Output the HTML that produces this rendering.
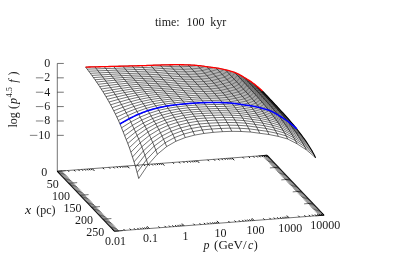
<!DOCTYPE html>
<html><head><meta charset="utf-8"><style>
html,body{margin:0;padding:0;background:#fff}
body{width:399px;height:279px;position:relative;overflow:hidden;font-family:"Liberation Serif",serif}
</style></head><body>
<svg width="399" height="279" viewBox="0 0 399 279" style="position:absolute;left:0;top:0;will-change:transform" font-family="'Liberation Serif', serif" font-size="12.0" fill="#000" fill-opacity="0.9">
<rect width="399" height="279" fill="#fff"/>
<g fill="none" stroke="#000" stroke-width="0.55">
<path d="M57.30 171.30 L114.30 231.20 L324.00 215.18 L267.00 155.28 Z"/>
<path d="M57.30 171.30 L57.30 63.45"/>
<path d="M57.30 63.45 L63.80 63.45"/>
<path d="M57.30 77.83 L63.80 77.83"/>
<path d="M57.30 92.21 L63.80 92.21"/>
<path d="M57.30 106.59 L63.80 106.59"/>
<path d="M57.30 120.97 L63.80 120.97"/>
<path d="M57.30 135.35 L63.80 135.35"/>
<path stroke-width="0.9" d="M114.30 231.20 L112.09 228.88"/>
<path stroke-width="0.9" d="M57.30 171.30 L59.51 173.62"/>
<path stroke-width="0.9" d="M124.82 230.40 L123.51 229.02"/>
<path stroke-width="0.9" d="M67.82 170.50 L69.13 171.87"/>
<path stroke-width="0.9" d="M130.98 229.93 L129.67 228.55"/>
<path stroke-width="0.9" d="M73.98 170.03 L75.29 171.40"/>
<path stroke-width="0.9" d="M135.34 229.59 L134.03 228.22"/>
<path stroke-width="0.9" d="M78.34 169.69 L79.65 171.07"/>
<path stroke-width="0.9" d="M138.73 229.33 L137.42 227.96"/>
<path stroke-width="0.9" d="M81.73 169.43 L83.04 170.81"/>
<path stroke-width="0.9" d="M141.50 229.12 L140.19 227.75"/>
<path stroke-width="0.9" d="M84.50 169.22 L85.81 170.60"/>
<path stroke-width="0.9" d="M143.84 228.94 L142.53 227.57"/>
<path stroke-width="0.9" d="M86.84 169.04 L88.15 170.42"/>
<path stroke-width="0.9" d="M145.86 228.79 L144.55 227.41"/>
<path stroke-width="0.9" d="M88.86 168.89 L90.17 170.27"/>
<path stroke-width="0.9" d="M147.65 228.65 L146.34 227.28"/>
<path stroke-width="0.9" d="M90.65 168.75 L91.96 170.13"/>
<path stroke-width="0.9" d="M149.25 228.53 L147.04 226.21"/>
<path stroke-width="0.9" d="M92.25 168.63 L94.46 170.95"/>
<path stroke-width="0.9" d="M159.77 227.73 L158.46 226.35"/>
<path stroke-width="0.9" d="M102.77 167.83 L104.08 169.20"/>
<path stroke-width="0.9" d="M165.93 227.26 L164.62 225.88"/>
<path stroke-width="0.9" d="M108.93 167.36 L110.24 168.73"/>
<path stroke-width="0.9" d="M170.29 226.92 L168.98 225.55"/>
<path stroke-width="0.9" d="M113.29 167.02 L114.60 168.40"/>
<path stroke-width="0.9" d="M173.68 226.66 L172.37 225.29"/>
<path stroke-width="0.9" d="M116.68 166.76 L117.99 168.14"/>
<path stroke-width="0.9" d="M176.45 226.45 L175.14 225.08"/>
<path stroke-width="0.9" d="M119.45 166.55 L120.76 167.93"/>
<path stroke-width="0.9" d="M178.79 226.27 L177.48 224.90"/>
<path stroke-width="0.9" d="M121.79 166.37 L123.10 167.75"/>
<path stroke-width="0.9" d="M180.81 226.12 L179.50 224.74"/>
<path stroke-width="0.9" d="M123.81 166.22 L125.12 167.60"/>
<path stroke-width="0.9" d="M182.60 225.98 L181.29 224.61"/>
<path stroke-width="0.9" d="M125.60 166.08 L126.91 167.46"/>
<path stroke-width="0.9" d="M184.20 225.86 L181.99 223.54"/>
<path stroke-width="0.9" d="M127.20 165.96 L129.41 168.28"/>
<path stroke-width="0.9" d="M194.72 225.06 L193.41 223.68"/>
<path stroke-width="0.9" d="M137.72 165.16 L139.03 166.53"/>
<path stroke-width="0.9" d="M200.88 224.59 L199.57 223.21"/>
<path stroke-width="0.9" d="M143.88 164.69 L145.19 166.06"/>
<path stroke-width="0.9" d="M205.24 224.25 L203.93 222.88"/>
<path stroke-width="0.9" d="M148.24 164.35 L149.55 165.73"/>
<path stroke-width="0.9" d="M208.63 223.99 L207.32 222.62"/>
<path stroke-width="0.9" d="M151.63 164.09 L152.94 165.47"/>
<path stroke-width="0.9" d="M211.40 223.78 L210.09 222.41"/>
<path stroke-width="0.9" d="M154.40 163.88 L155.71 165.26"/>
<path stroke-width="0.9" d="M213.74 223.60 L212.43 222.23"/>
<path stroke-width="0.9" d="M156.74 163.70 L158.05 165.08"/>
<path stroke-width="0.9" d="M215.76 223.45 L214.45 222.07"/>
<path stroke-width="0.9" d="M158.76 163.55 L160.07 164.93"/>
<path stroke-width="0.9" d="M217.55 223.31 L216.24 221.94"/>
<path stroke-width="0.9" d="M160.55 163.41 L161.86 164.79"/>
<path stroke-width="0.9" d="M219.15 223.19 L216.94 220.87"/>
<path stroke-width="0.9" d="M162.15 163.29 L164.36 165.61"/>
<path stroke-width="0.9" d="M229.67 222.39 L228.36 221.01"/>
<path stroke-width="0.9" d="M172.67 162.49 L173.98 163.86"/>
<path stroke-width="0.9" d="M235.83 221.92 L234.52 220.54"/>
<path stroke-width="0.9" d="M178.83 162.02 L180.14 163.39"/>
<path stroke-width="0.9" d="M240.19 221.58 L238.88 220.21"/>
<path stroke-width="0.9" d="M183.19 161.68 L184.50 163.06"/>
<path stroke-width="0.9" d="M243.58 221.32 L242.27 219.95"/>
<path stroke-width="0.9" d="M186.58 161.42 L187.89 162.80"/>
<path stroke-width="0.9" d="M246.35 221.11 L245.04 219.74"/>
<path stroke-width="0.9" d="M189.35 161.21 L190.66 162.59"/>
<path stroke-width="0.9" d="M248.69 220.93 L247.38 219.56"/>
<path stroke-width="0.9" d="M191.69 161.03 L193.00 162.41"/>
<path stroke-width="0.9" d="M250.71 220.78 L249.40 219.40"/>
<path stroke-width="0.9" d="M193.71 160.88 L195.02 162.26"/>
<path stroke-width="0.9" d="M252.50 220.64 L251.19 219.27"/>
<path stroke-width="0.9" d="M195.50 160.74 L196.81 162.12"/>
<path stroke-width="0.9" d="M254.10 220.52 L251.89 218.20"/>
<path stroke-width="0.9" d="M197.10 160.62 L199.31 162.94"/>
<path stroke-width="0.9" d="M264.62 219.72 L263.31 218.34"/>
<path stroke-width="0.9" d="M207.62 159.82 L208.93 161.19"/>
<path stroke-width="0.9" d="M270.78 219.25 L269.47 217.87"/>
<path stroke-width="0.9" d="M213.78 159.35 L215.09 160.72"/>
<path stroke-width="0.9" d="M275.14 218.91 L273.83 217.54"/>
<path stroke-width="0.9" d="M218.14 159.01 L219.45 160.39"/>
<path stroke-width="0.9" d="M278.53 218.65 L277.22 217.28"/>
<path stroke-width="0.9" d="M221.53 158.75 L222.84 160.13"/>
<path stroke-width="0.9" d="M281.30 218.44 L279.99 217.07"/>
<path stroke-width="0.9" d="M224.30 158.54 L225.61 159.92"/>
<path stroke-width="0.9" d="M283.64 218.26 L282.33 216.89"/>
<path stroke-width="0.9" d="M226.64 158.36 L227.95 159.74"/>
<path stroke-width="0.9" d="M285.66 218.11 L284.35 216.73"/>
<path stroke-width="0.9" d="M228.66 158.21 L229.97 159.59"/>
<path stroke-width="0.9" d="M287.45 217.97 L286.14 216.60"/>
<path stroke-width="0.9" d="M230.45 158.07 L231.76 159.45"/>
<path stroke-width="0.9" d="M289.05 217.85 L286.84 215.53"/>
<path stroke-width="0.9" d="M232.05 157.95 L234.26 160.27"/>
<path stroke-width="0.9" d="M299.57 217.05 L298.26 215.67"/>
<path stroke-width="0.9" d="M242.57 157.15 L243.88 158.52"/>
<path stroke-width="0.9" d="M305.73 216.58 L304.42 215.20"/>
<path stroke-width="0.9" d="M248.73 156.68 L250.04 158.05"/>
<path stroke-width="0.9" d="M310.09 216.24 L308.78 214.87"/>
<path stroke-width="0.9" d="M253.09 156.34 L254.40 157.72"/>
<path stroke-width="0.9" d="M313.48 215.98 L312.17 214.61"/>
<path stroke-width="0.9" d="M256.48 156.08 L257.79 157.46"/>
<path stroke-width="0.9" d="M316.25 215.77 L314.94 214.40"/>
<path stroke-width="0.9" d="M259.25 155.87 L260.56 157.25"/>
<path stroke-width="0.9" d="M318.59 215.59 L317.28 214.22"/>
<path stroke-width="0.9" d="M261.59 155.69 L262.90 157.07"/>
<path stroke-width="0.9" d="M320.61 215.44 L319.30 214.06"/>
<path stroke-width="0.9" d="M263.61 155.54 L264.92 156.92"/>
<path stroke-width="0.9" d="M322.40 215.30 L321.09 213.93"/>
<path stroke-width="0.9" d="M265.40 155.40 L266.71 156.78"/>
<path stroke-width="0.9" d="M324.00 215.18 L321.79 212.86"/>
<path stroke-width="0.9" d="M267.00 155.28 L269.21 157.60"/>
<path d="M57.30 171.30 L65.78 170.65"/>
<path d="M267.00 155.28 L258.52 155.93"/>
<path d="M68.70 183.28 L77.18 182.63"/>
<path d="M278.40 167.26 L269.92 167.91"/>
<path d="M80.10 195.26 L88.58 194.61"/>
<path d="M289.80 179.24 L281.32 179.89"/>
<path d="M91.50 207.24 L99.98 206.59"/>
<path d="M301.20 191.22 L292.72 191.87"/>
<path d="M102.90 219.22 L111.38 218.57"/>
<path d="M312.60 203.20 L304.12 203.85"/>
<path d="M114.30 231.20 L122.78 230.55"/>
<path d="M324.00 215.18 L315.52 215.83"/>
</g>
<g fill="none" stroke="#000" stroke-width="0.8" stroke-opacity="0.78">
<path d="M57.30 171.30 L62.09 170.93"/>
<path d="M267.00 155.28 L262.21 155.65"/>
<path d="M58.44 172.50 L63.23 172.13"/>
<path d="M268.14 156.48 L263.35 156.84"/>
<path d="M59.58 173.70 L64.37 173.33"/>
<path d="M269.28 157.68 L264.49 158.04"/>
<path d="M60.72 174.89 L65.51 174.53"/>
<path d="M270.42 158.87 L265.63 159.24"/>
<path d="M61.86 176.09 L66.65 175.73"/>
<path d="M271.56 160.07 L266.77 160.44"/>
<path d="M63.00 177.29 L67.79 176.92"/>
<path d="M272.70 161.27 L267.91 161.64"/>
<path d="M64.14 178.49 L68.93 178.12"/>
<path d="M273.84 162.47 L269.05 162.83"/>
<path d="M65.28 179.69 L70.07 179.32"/>
<path d="M274.98 163.67 L270.19 164.03"/>
<path d="M66.42 180.88 L71.21 180.52"/>
<path d="M276.12 164.86 L271.33 165.23"/>
<path d="M67.56 182.08 L72.35 181.72"/>
<path d="M277.26 166.06 L272.47 166.43"/>
<path d="M68.70 183.28 L73.49 182.91"/>
<path d="M278.40 167.26 L273.61 167.63"/>
<path d="M69.84 184.48 L74.63 184.11"/>
<path d="M279.54 168.46 L274.75 168.82"/>
<path d="M70.98 185.68 L75.77 185.31"/>
<path d="M280.68 169.66 L275.89 170.02"/>
<path d="M72.12 186.87 L76.91 186.51"/>
<path d="M281.82 170.85 L277.03 171.22"/>
<path d="M73.26 188.07 L78.05 187.71"/>
<path d="M282.96 172.05 L278.17 172.42"/>
<path d="M74.40 189.27 L79.19 188.90"/>
<path d="M284.10 173.25 L279.31 173.62"/>
<path d="M75.54 190.47 L80.33 190.10"/>
<path d="M285.24 174.45 L280.45 174.81"/>
<path d="M76.68 191.67 L81.47 191.30"/>
<path d="M286.38 175.65 L281.59 176.01"/>
<path d="M77.82 192.86 L82.61 192.50"/>
<path d="M287.52 176.84 L282.73 177.21"/>
<path d="M78.96 194.06 L83.75 193.70"/>
<path d="M288.66 178.04 L283.87 178.41"/>
<path d="M80.10 195.26 L84.89 194.89"/>
<path d="M289.80 179.24 L285.01 179.61"/>
<path d="M81.24 196.46 L86.03 196.09"/>
<path d="M290.94 180.44 L286.15 180.80"/>
<path d="M82.38 197.66 L87.17 197.29"/>
<path d="M292.08 181.64 L287.29 182.00"/>
<path d="M83.52 198.85 L88.31 198.49"/>
<path d="M293.22 182.83 L288.43 183.20"/>
<path d="M84.66 200.05 L89.45 199.69"/>
<path d="M294.36 184.03 L289.57 184.40"/>
<path d="M85.80 201.25 L90.59 200.88"/>
<path d="M295.50 185.23 L290.71 185.60"/>
<path d="M86.94 202.45 L91.73 202.08"/>
<path d="M296.64 186.43 L291.85 186.79"/>
<path d="M88.08 203.65 L92.87 203.28"/>
<path d="M297.78 187.63 L292.99 187.99"/>
<path d="M89.22 204.84 L94.01 204.48"/>
<path d="M298.92 188.82 L294.13 189.19"/>
<path d="M90.36 206.04 L95.15 205.68"/>
<path d="M300.06 190.02 L295.27 190.39"/>
<path d="M91.50 207.24 L96.29 206.87"/>
<path d="M301.20 191.22 L296.41 191.59"/>
<path d="M92.64 208.44 L97.43 208.07"/>
<path d="M302.34 192.42 L297.55 192.78"/>
<path d="M93.78 209.64 L98.57 209.27"/>
<path d="M303.48 193.62 L298.69 193.98"/>
<path d="M94.92 210.83 L99.71 210.47"/>
<path d="M304.62 194.81 L299.83 195.18"/>
<path d="M96.06 212.03 L100.85 211.67"/>
<path d="M305.76 196.01 L300.97 196.38"/>
<path d="M97.20 213.23 L101.99 212.86"/>
<path d="M306.90 197.21 L302.11 197.58"/>
<path d="M98.34 214.43 L103.13 214.06"/>
<path d="M308.04 198.41 L303.25 198.77"/>
<path d="M99.48 215.63 L104.27 215.26"/>
<path d="M309.18 199.61 L304.39 199.97"/>
<path d="M100.62 216.82 L105.41 216.46"/>
<path d="M310.32 200.80 L305.53 201.17"/>
<path d="M101.76 218.02 L106.55 217.66"/>
<path d="M311.46 202.00 L306.67 202.37"/>
<path d="M102.90 219.22 L107.69 218.85"/>
<path d="M312.60 203.20 L307.81 203.57"/>
<path d="M104.04 220.42 L108.83 220.05"/>
<path d="M313.74 204.40 L308.95 204.76"/>
<path d="M105.18 221.62 L109.97 221.25"/>
<path d="M314.88 205.60 L310.09 205.96"/>
<path d="M106.32 222.81 L111.11 222.45"/>
<path d="M316.02 206.79 L311.23 207.16"/>
<path d="M107.46 224.01 L112.25 223.65"/>
<path d="M317.16 207.99 L312.37 208.36"/>
<path d="M108.60 225.21 L113.39 224.84"/>
<path d="M318.30 209.19 L313.51 209.56"/>
<path d="M109.74 226.41 L114.53 226.04"/>
<path d="M319.44 210.39 L314.65 210.75"/>
<path d="M110.88 227.61 L115.67 227.24"/>
<path d="M320.58 211.59 L315.79 211.95"/>
<path d="M112.02 228.80 L116.81 228.44"/>
<path d="M321.72 212.78 L316.93 213.15"/>
<path d="M113.16 230.00 L117.95 229.64"/>
<path d="M322.86 213.98 L318.07 214.35"/>
<path d="M114.30 231.20 L119.09 230.83"/>
<path d="M324.00 215.18 L319.21 215.55"/>
</g>
<path d="M57.30 171.30 L114.30 231.20 M267.00 155.28 L324.00 215.18" fill="none" stroke="#000" stroke-width="1.2" stroke-opacity="0.7"/>
<g fill="none" stroke="#000" stroke-width="0.62" stroke-linejoin="round">
<path stroke-width="0.55" d="M85.61 67.10 L94.92 66.87 L104.22 66.64 L113.53 66.40 L122.84 66.16 L132.15 65.91 L141.46 65.66 L150.76 65.36 L160.07 65.04 L169.38 64.79 L178.69 64.70 L187.99 64.92 L197.30 65.49 L206.61 66.69 L215.92 67.90 L225.23 69.75 L234.53 72.35 L243.84 77.18 L253.15 83.21 L262.46 91.06"/>
<path stroke-width="0.55" d="M87.17 69.14 L96.48 68.86 L105.79 68.56 L115.10 68.28 L124.40 68.02 L133.71 67.78 L143.02 67.53 L152.33 67.19 L161.63 66.76 L170.94 66.44 L180.25 66.34 L189.56 66.56 L198.86 67.13 L208.17 68.34 L217.48 69.54 L226.79 71.39 L236.10 74.00 L245.40 78.82 L254.71 84.85 L264.02 92.70"/>
<path stroke-width="0.55" d="M88.73 71.21 L98.04 70.86 L107.35 70.48 L116.66 70.14 L125.97 69.85 L135.27 69.61 L144.58 69.37 L153.89 69.00 L163.20 68.48 L172.50 68.09 L181.81 67.98 L191.12 68.21 L200.43 68.78 L209.74 69.98 L219.04 71.19 L228.35 73.04 L237.66 75.64 L246.97 80.47 L256.27 86.50 L265.58 94.35"/>
<path stroke-width="0.55" d="M90.30 73.30 L99.60 72.86 L108.91 72.41 L118.22 72.00 L127.53 71.67 L136.84 71.41 L146.14 71.17 L155.45 70.78 L164.76 70.18 L174.07 69.74 L183.37 69.63 L192.68 69.85 L201.99 70.42 L211.30 71.63 L220.61 72.83 L229.91 74.69 L239.22 77.29 L248.53 82.11 L257.84 88.15 L267.14 95.99"/>
<path stroke-width="0.55" d="M91.86 75.42 L101.17 74.89 L110.47 74.34 L119.78 73.86 L129.09 73.48 L138.40 73.19 L147.71 72.94 L157.01 72.53 L166.32 71.87 L175.63 71.39 L184.94 71.28 L194.24 71.50 L203.55 72.07 L212.86 73.27 L222.17 74.48 L231.48 76.34 L240.78 78.94 L250.09 83.77 L259.40 89.80 L268.71 97.65"/>
<path stroke-width="0.55" d="M93.42 77.58 L102.73 76.93 L112.04 76.28 L121.35 75.71 L130.65 75.27 L139.96 74.96 L149.27 74.70 L158.58 74.27 L167.88 73.56 L177.19 73.05 L186.50 72.93 L195.81 73.15 L205.11 73.72 L214.42 74.93 L223.73 76.14 L233.04 77.99 L242.35 80.60 L251.65 85.42 L260.96 91.45 L270.27 99.30"/>
<path stroke-width="0.55" d="M94.98 79.77 L104.29 79.00 L113.60 78.23 L122.91 77.57 L132.22 77.07 L141.52 76.71 L150.83 76.44 L160.14 75.99 L169.45 75.24 L178.75 74.70 L188.06 74.58 L197.37 74.80 L206.68 75.37 L215.98 76.58 L225.29 77.79 L234.60 79.65 L243.91 82.26 L253.22 87.08 L262.52 93.11 L271.83 100.96"/>
<path stroke-width="0.55" d="M96.55 82.01 L105.85 81.09 L115.16 80.20 L124.47 79.44 L133.78 78.86 L143.09 78.46 L152.39 78.17 L161.70 77.70 L171.01 76.93 L180.32 76.37 L189.62 76.24 L198.93 76.46 L208.24 77.03 L217.55 78.24 L226.86 79.45 L236.16 81.31 L245.47 83.92 L254.78 88.74 L264.09 94.77 L273.39 102.62"/>
<path stroke-width="0.55" d="M98.11 84.30 L107.42 83.22 L116.72 82.19 L126.03 81.31 L135.34 80.65 L144.65 80.21 L153.96 79.89 L163.26 79.40 L172.57 78.61 L181.88 78.03 L191.19 77.90 L200.49 78.12 L209.80 78.69 L219.11 79.90 L228.42 81.11 L237.73 82.98 L247.03 85.59 L256.34 90.41 L265.65 96.44 L274.96 104.29"/>
<path stroke-width="0.55" d="M99.67 86.64 L108.98 85.39 L118.29 84.21 L127.59 83.21 L136.90 82.46 L146.21 81.95 L155.52 81.60 L164.83 81.10 L174.13 80.29 L183.44 79.70 L192.75 79.57 L202.06 79.79 L211.36 80.36 L220.67 81.57 L229.98 82.78 L239.29 84.65 L248.60 87.26 L257.90 92.08 L267.21 98.12 L276.52 105.96"/>
<path stroke-width="0.55" d="M101.23 89.03 L110.54 87.60 L119.85 86.25 L129.16 85.12 L138.47 84.27 L147.77 83.70 L157.08 83.31 L166.39 82.79 L175.70 81.97 L185.00 81.38 L194.31 81.24 L203.62 81.46 L212.93 82.03 L222.23 83.24 L231.54 84.46 L240.85 86.33 L250.16 88.95 L259.47 93.76 L268.77 99.80 L278.08 107.64"/>
<path stroke-width="0.55" d="M102.80 91.49 L112.10 89.85 L121.41 88.33 L130.72 87.05 L140.03 86.10 L149.34 85.46 L158.64 85.03 L167.95 84.49 L177.26 83.65 L186.57 83.06 L195.87 82.92 L205.18 83.14 L214.49 83.71 L223.80 84.92 L233.10 86.14 L242.41 88.02 L251.72 90.64 L261.03 95.45 L270.34 101.49 L279.64 109.33"/>
<path stroke-width="0.55" d="M104.36 94.01 L113.67 92.14 L122.97 90.44 L132.28 89.01 L141.59 87.94 L150.90 87.22 L160.21 86.74 L169.51 86.18 L178.82 85.35 L188.13 84.76 L197.44 84.61 L206.74 84.82 L216.05 85.40 L225.36 86.61 L234.67 87.83 L243.98 89.72 L253.28 92.34 L262.59 97.15 L271.90 103.18 L281.21 111.03"/>
<path stroke-width="0.55" d="M105.92 96.60 L115.23 94.49 L124.54 92.59 L133.84 91.00 L143.15 89.80 L152.46 89.00 L161.77 88.47 L171.08 87.88 L180.38 87.05 L189.69 86.46 L199.00 86.31 L208.31 86.52 L217.61 87.09 L226.92 88.31 L236.23 89.54 L245.54 91.42 L254.85 94.05 L264.15 98.86 L273.46 104.89 L282.77 112.74"/>
<path stroke-width="0.55" d="M107.48 99.27 L116.79 96.90 L126.10 94.78 L135.41 93.01 L144.72 91.69 L154.02 90.79 L163.33 90.20 L172.64 89.59 L181.95 88.76 L191.25 88.18 L200.56 88.02 L209.87 88.23 L219.18 88.80 L228.48 90.02 L237.79 91.25 L247.10 93.15 L256.41 95.77 L265.72 100.58 L275.02 106.62 L284.33 114.46"/>
<path stroke-width="0.55" d="M109.05 102.01 L118.35 99.37 L127.66 97.01 L136.97 95.06 L146.28 93.60 L155.59 92.60 L164.89 91.94 L174.20 91.30 L183.51 90.48 L192.82 89.91 L202.12 89.75 L211.43 89.95 L220.74 90.52 L230.05 91.74 L239.35 92.98 L248.66 94.88 L257.97 97.51 L267.28 102.32 L276.59 108.35 L285.89 116.20"/>
<path stroke-width="0.55" d="M110.61 104.84 L119.92 101.89 L129.22 99.29 L138.53 97.15 L147.84 95.54 L157.15 94.44 L166.46 93.70 L175.76 93.02 L185.07 92.21 L194.38 91.65 L203.69 91.49 L212.99 91.69 L222.30 92.26 L231.61 93.48 L240.92 94.73 L250.23 96.63 L259.53 99.27 L268.84 104.07 L278.15 110.11 L287.46 117.95"/>
<path stroke-width="0.55" d="M112.17 107.76 L121.48 104.49 L130.79 101.63 L140.09 99.28 L149.40 97.52 L158.71 96.29 L168.02 95.48 L177.33 94.76 L186.63 93.97 L195.94 93.42 L205.25 93.25 L214.56 93.45 L223.86 94.02 L233.17 95.24 L242.48 96.49 L251.79 98.41 L261.10 101.04 L270.40 105.85 L279.71 111.88 L289.02 119.73"/>
<path stroke-width="0.55" d="M113.73 110.77 L123.04 107.15 L132.35 104.02 L141.66 101.46 L150.96 99.53 L160.27 98.18 L169.58 97.27 L178.89 96.52 L188.20 95.74 L197.50 95.20 L206.81 95.03 L216.12 95.22 L225.43 95.79 L234.73 97.02 L244.04 98.27 L253.35 100.20 L262.66 102.84 L271.97 107.64 L281.27 113.67 L290.58 121.52"/>
<path stroke-width="0.55" d="M115.30 113.88 L124.60 109.89 L133.91 106.46 L143.22 103.68 L152.53 101.58 L161.84 100.10 L171.14 99.10 L180.45 98.30 L189.76 97.54 L199.07 97.02 L208.37 96.83 L217.68 97.02 L226.99 97.59 L236.30 98.82 L245.60 100.08 L254.91 102.02 L264.22 104.66 L273.53 109.46 L282.84 115.49 L292.14 123.34"/>
<path stroke-width="0.55" d="M116.86 117.08 L126.17 112.70 L135.47 108.96 L144.78 105.94 L154.09 103.66 L163.40 102.05 L172.71 100.95 L182.01 100.10 L191.32 99.36 L200.63 98.85 L209.94 98.67 L219.24 98.85 L228.55 99.42 L237.86 100.65 L247.17 101.92 L256.47 103.86 L265.78 106.51 L275.09 111.31 L284.40 117.34 L293.71 125.19"/>
<path stroke-width="0.55" d="M118.42 120.40 L127.73 115.59 L137.04 111.53 L146.34 108.27 L155.65 105.80 L164.96 104.05 L174.27 102.84 L183.58 101.94 L192.88 101.21 L202.19 100.73 L211.50 100.53 L220.81 100.71 L230.11 101.28 L239.42 102.51 L248.73 103.79 L258.04 105.74 L267.35 108.39 L276.65 113.18 L285.96 119.22 L295.27 127.06"/>
<path stroke-width="0.55" d="M119.98 123.95 L129.29 118.67 L138.60 114.24 L147.91 110.70 L157.21 108.03 L166.52 106.11 L175.83 104.78 L185.14 103.82 L194.45 103.12 L203.75 102.65 L213.06 102.45 L222.37 102.62 L231.68 103.19 L240.98 104.43 L250.29 105.71 L259.60 107.67 L268.91 110.32 L278.22 115.12 L287.52 121.15 L296.83 129.00"/>
<path stroke-width="0.55" d="M121.55 127.80 L130.85 121.97 L140.16 117.12 L149.47 113.28 L158.78 110.37 L168.09 108.28 L177.39 106.82 L186.70 105.78 L196.01 105.10 L205.32 104.65 L214.62 104.44 L223.93 104.61 L233.24 105.17 L242.55 106.42 L251.85 107.71 L261.16 109.68 L270.47 112.33 L279.78 117.12 L289.09 123.15 L298.39 131.00"/>
<path stroke-width="0.55" d="M123.11 131.78 L132.42 125.37 L141.72 120.09 L151.03 115.92 L160.34 112.78 L169.65 110.51 L178.96 108.91 L188.26 107.80 L197.57 107.14 L206.88 106.71 L216.19 106.48 L225.49 106.65 L234.80 107.21 L244.11 108.46 L253.42 109.76 L262.72 111.73 L272.03 114.39 L281.34 119.18 L290.65 125.21 L299.96 133.06"/>
<path stroke-width="0.55" d="M124.67 135.69 L133.98 128.72 L143.29 123.02 L152.59 118.55 L161.90 115.20 L171.21 112.76 L180.52 111.03 L189.83 109.86 L199.13 109.21 L208.44 108.79 L217.75 108.55 L227.06 108.71 L236.36 109.28 L245.67 110.53 L254.98 111.83 L264.29 113.81 L273.60 116.47 L282.90 121.26 L292.21 127.29 L301.52 135.14"/>
<path stroke-width="0.55" d="M126.23 139.57 L135.54 132.04 L144.85 125.94 L154.16 121.19 L163.46 117.62 L172.77 115.04 L182.08 113.19 L191.39 111.94 L200.70 111.31 L210.00 110.90 L219.31 110.65 L228.62 110.80 L237.93 111.37 L247.23 112.62 L256.54 113.93 L265.85 115.92 L275.16 118.58 L284.47 123.36 L293.77 129.39 L303.08 137.24"/>
<path stroke-width="0.55" d="M127.80 143.51 L137.10 135.42 L146.41 128.91 L155.72 123.86 L165.03 120.09 L174.33 117.36 L183.64 115.40 L192.95 114.09 L202.26 113.45 L211.57 113.05 L220.87 112.79 L230.18 112.94 L239.49 113.51 L248.80 114.76 L258.10 116.07 L267.41 118.06 L276.72 120.72 L286.03 125.50 L295.34 131.53 L304.64 139.38"/>
<path stroke-width="0.55" d="M129.36 147.67 L138.67 138.96 L147.97 132.01 L157.28 126.65 L166.59 122.67 L175.90 119.79 L185.21 117.71 L194.51 116.33 L203.82 115.70 L213.13 115.29 L222.44 115.02 L231.74 115.17 L241.05 115.73 L250.36 116.99 L259.67 118.30 L268.97 120.29 L278.28 122.95 L287.59 127.72 L296.90 133.76 L306.21 141.60"/>
<path stroke-width="0.55" d="M130.92 152.20 L140.23 142.79 L149.54 135.32 L158.84 129.62 L168.15 125.41 L177.46 122.37 L186.77 120.19 L196.08 118.73 L205.38 118.08 L214.69 117.66 L224.00 117.39 L233.31 117.53 L242.61 118.09 L251.92 119.35 L261.23 120.66 L270.54 122.65 L279.84 125.30 L289.15 130.07 L298.46 136.11 L307.77 143.95"/>
<path stroke-width="0.55" d="M132.48 156.97 L141.79 146.80 L151.10 138.80 L160.41 132.73 L169.71 128.29 L179.02 125.09 L188.33 122.80 L197.64 121.29 L206.95 120.60 L216.25 120.16 L225.56 119.88 L234.87 120.01 L244.18 120.58 L253.48 121.83 L262.79 123.14 L272.10 125.12 L281.41 127.77 L290.72 132.54 L300.02 138.57 L309.33 146.42"/>
<path stroke-width="0.55" d="M134.05 161.88 L143.35 150.91 L152.66 142.36 L161.97 135.93 L171.28 131.25 L180.58 127.91 L189.89 125.54 L199.20 123.97 L208.51 123.23 L217.82 122.76 L227.12 122.47 L236.43 122.60 L245.74 123.16 L255.05 124.42 L264.35 125.72 L273.66 127.68 L282.97 130.32 L292.28 135.09 L301.59 141.12 L310.89 148.97"/>
<path stroke-width="0.55" d="M135.61 167.01 L144.92 155.20 L154.22 146.06 L163.53 139.26 L172.84 134.35 L182.15 130.88 L191.45 128.45 L200.76 126.83 L210.07 126.01 L219.38 125.50 L228.69 125.19 L237.99 125.32 L247.30 125.89 L256.61 127.14 L265.92 128.44 L275.22 130.38 L284.53 133.00 L293.84 137.77 L303.15 143.80 L312.46 151.65"/>
<path stroke-width="0.55" d="M137.17 172.51 L146.48 159.77 L155.79 150.00 L165.09 142.79 L174.40 137.64 L183.71 134.07 L193.02 131.61 L202.33 129.96 L211.63 129.02 L220.94 128.43 L230.25 128.13 L239.56 128.26 L248.86 128.82 L258.17 130.07 L267.48 131.35 L276.79 133.26 L286.09 135.86 L295.40 140.63 L304.71 146.66 L314.02 154.51"/>
<path stroke-width="0.55" d="M138.73 178.52 L148.04 164.73 L157.35 154.25 L166.66 146.60 L175.96 141.22 L185.27 137.55 L194.58 135.11 L203.89 133.46 L213.20 132.35 L222.50 131.65 L231.81 131.34 L241.12 131.48 L250.43 132.04 L259.73 133.28 L269.04 134.53 L278.35 136.40 L287.66 138.97 L296.97 143.75 L306.27 149.78 L315.58 157.63"/>
<path d="M85.61 67.10 L87.17 69.14 L88.73 71.21 L90.30 73.30 L91.86 75.42 L93.42 77.58 L94.98 79.77 L96.55 82.01 L98.11 84.30 L99.67 86.64 L101.23 89.03 L102.80 91.49 L104.36 94.01 L105.92 96.60 L107.48 99.27 L109.05 102.01 L110.61 104.84 L112.17 107.76 L113.73 110.77 L115.30 113.88 L116.86 117.08 L118.42 120.40 L119.98 123.95 L121.55 127.80 L123.11 131.78 L124.67 135.69 L126.23 139.57 L127.80 143.51 L129.36 147.67 L130.92 152.20 L132.48 156.97 L134.05 161.88 L135.61 167.01 L137.17 172.51 L138.73 178.52"/>
<path d="M94.92 66.87 L96.48 68.86 L98.04 70.86 L99.60 72.86 L101.17 74.89 L102.73 76.93 L104.29 79.00 L105.85 81.09 L107.42 83.22 L108.98 85.39 L110.54 87.60 L112.10 89.85 L113.67 92.14 L115.23 94.49 L116.79 96.90 L118.35 99.37 L119.92 101.89 L121.48 104.49 L123.04 107.15 L124.60 109.89 L126.17 112.70 L127.73 115.59 L129.29 118.67 L130.85 121.97 L132.42 125.37 L133.98 128.72 L135.54 132.04 L137.10 135.42 L138.67 138.96 L140.23 142.79 L141.79 146.80 L143.35 150.91 L144.92 155.20 L146.48 159.77 L148.04 164.73"/>
<path d="M104.22 66.64 L105.79 68.56 L107.35 70.48 L108.91 72.41 L110.47 74.34 L112.04 76.28 L113.60 78.23 L115.16 80.20 L116.72 82.19 L118.29 84.21 L119.85 86.25 L121.41 88.33 L122.97 90.44 L124.54 92.59 L126.10 94.78 L127.66 97.01 L129.22 99.29 L130.79 101.63 L132.35 104.02 L133.91 106.46 L135.47 108.96 L137.04 111.53 L138.60 114.24 L140.16 117.12 L141.72 120.09 L143.29 123.02 L144.85 125.94 L146.41 128.91 L147.97 132.01 L149.54 135.32 L151.10 138.80 L152.66 142.36 L154.22 146.06 L155.79 150.00 L157.35 154.25"/>
<path d="M113.53 66.40 L115.10 68.28 L116.66 70.14 L118.22 72.00 L119.78 73.86 L121.35 75.71 L122.91 77.57 L124.47 79.44 L126.03 81.31 L127.59 83.21 L129.16 85.12 L130.72 87.05 L132.28 89.01 L133.84 91.00 L135.41 93.01 L136.97 95.06 L138.53 97.15 L140.09 99.28 L141.66 101.46 L143.22 103.68 L144.78 105.94 L146.34 108.27 L147.91 110.70 L149.47 113.28 L151.03 115.92 L152.59 118.55 L154.16 121.19 L155.72 123.86 L157.28 126.65 L158.84 129.62 L160.41 132.73 L161.97 135.93 L163.53 139.26 L165.09 142.79 L166.66 146.60"/>
<path d="M122.84 66.16 L124.40 68.02 L125.97 69.85 L127.53 71.67 L129.09 73.48 L130.65 75.27 L132.22 77.07 L133.78 78.86 L135.34 80.65 L136.90 82.46 L138.47 84.27 L140.03 86.10 L141.59 87.94 L143.15 89.80 L144.72 91.69 L146.28 93.60 L147.84 95.54 L149.40 97.52 L150.96 99.53 L152.53 101.58 L154.09 103.66 L155.65 105.80 L157.21 108.03 L158.78 110.37 L160.34 112.78 L161.90 115.20 L163.46 117.62 L165.03 120.09 L166.59 122.67 L168.15 125.41 L169.71 128.29 L171.28 131.25 L172.84 134.35 L174.40 137.64 L175.96 141.22"/>
<path d="M132.15 65.91 L133.71 67.78 L135.27 69.61 L136.84 71.41 L138.40 73.19 L139.96 74.96 L141.52 76.71 L143.09 78.46 L144.65 80.21 L146.21 81.95 L147.77 83.70 L149.34 85.46 L150.90 87.22 L152.46 89.00 L154.02 90.79 L155.59 92.60 L157.15 94.44 L158.71 96.29 L160.27 98.18 L161.84 100.10 L163.40 102.05 L164.96 104.05 L166.52 106.11 L168.09 108.28 L169.65 110.51 L171.21 112.76 L172.77 115.04 L174.33 117.36 L175.90 119.79 L177.46 122.37 L179.02 125.09 L180.58 127.91 L182.15 130.88 L183.71 134.07 L185.27 137.55"/>
<path d="M141.46 65.66 L143.02 67.53 L144.58 69.37 L146.14 71.17 L147.71 72.94 L149.27 74.70 L150.83 76.44 L152.39 78.17 L153.96 79.89 L155.52 81.60 L157.08 83.31 L158.64 85.03 L160.21 86.74 L161.77 88.47 L163.33 90.20 L164.89 91.94 L166.46 93.70 L168.02 95.48 L169.58 97.27 L171.14 99.10 L172.71 100.95 L174.27 102.84 L175.83 104.78 L177.39 106.82 L178.96 108.91 L180.52 111.03 L182.08 113.19 L183.64 115.40 L185.21 117.71 L186.77 120.19 L188.33 122.80 L189.89 125.54 L191.45 128.45 L193.02 131.61 L194.58 135.11"/>
<path d="M150.76 65.36 L152.33 67.19 L153.89 69.00 L155.45 70.78 L157.01 72.53 L158.58 74.27 L160.14 75.99 L161.70 77.70 L163.26 79.40 L164.83 81.10 L166.39 82.79 L167.95 84.49 L169.51 86.18 L171.08 87.88 L172.64 89.59 L174.20 91.30 L175.76 93.02 L177.33 94.76 L178.89 96.52 L180.45 98.30 L182.01 100.10 L183.58 101.94 L185.14 103.82 L186.70 105.78 L188.26 107.80 L189.83 109.86 L191.39 111.94 L192.95 114.09 L194.51 116.33 L196.08 118.73 L197.64 121.29 L199.20 123.97 L200.76 126.83 L202.33 129.96 L203.89 133.46"/>
<path d="M160.07 65.04 L161.63 66.76 L163.20 68.48 L164.76 70.18 L166.32 71.87 L167.88 73.56 L169.45 75.24 L171.01 76.93 L172.57 78.61 L174.13 80.29 L175.70 81.97 L177.26 83.65 L178.82 85.35 L180.38 87.05 L181.95 88.76 L183.51 90.48 L185.07 92.21 L186.63 93.97 L188.20 95.74 L189.76 97.54 L191.32 99.36 L192.88 101.21 L194.45 103.12 L196.01 105.10 L197.57 107.14 L199.13 109.21 L200.70 111.31 L202.26 113.45 L203.82 115.70 L205.38 118.08 L206.95 120.60 L208.51 123.23 L210.07 126.01 L211.63 129.02 L213.20 132.35"/>
<path d="M169.38 64.79 L170.94 66.44 L172.50 68.09 L174.07 69.74 L175.63 71.39 L177.19 73.05 L178.75 74.70 L180.32 76.37 L181.88 78.03 L183.44 79.70 L185.00 81.38 L186.57 83.06 L188.13 84.76 L189.69 86.46 L191.25 88.18 L192.82 89.91 L194.38 91.65 L195.94 93.42 L197.50 95.20 L199.07 97.02 L200.63 98.85 L202.19 100.73 L203.75 102.65 L205.32 104.65 L206.88 106.71 L208.44 108.79 L210.00 110.90 L211.57 113.05 L213.13 115.29 L214.69 117.66 L216.25 120.16 L217.82 122.76 L219.38 125.50 L220.94 128.43 L222.50 131.65"/>
<path d="M178.69 64.70 L180.25 66.34 L181.81 67.98 L183.37 69.63 L184.94 71.28 L186.50 72.93 L188.06 74.58 L189.62 76.24 L191.19 77.90 L192.75 79.57 L194.31 81.24 L195.87 82.92 L197.44 84.61 L199.00 86.31 L200.56 88.02 L202.12 89.75 L203.69 91.49 L205.25 93.25 L206.81 95.03 L208.37 96.83 L209.94 98.67 L211.50 100.53 L213.06 102.45 L214.62 104.44 L216.19 106.48 L217.75 108.55 L219.31 110.65 L220.87 112.79 L222.44 115.02 L224.00 117.39 L225.56 119.88 L227.12 122.47 L228.69 125.19 L230.25 128.13 L231.81 131.34"/>
<path d="M187.99 64.92 L189.56 66.56 L191.12 68.21 L192.68 69.85 L194.24 71.50 L195.81 73.15 L197.37 74.80 L198.93 76.46 L200.49 78.12 L202.06 79.79 L203.62 81.46 L205.18 83.14 L206.74 84.82 L208.31 86.52 L209.87 88.23 L211.43 89.95 L212.99 91.69 L214.56 93.45 L216.12 95.22 L217.68 97.02 L219.24 98.85 L220.81 100.71 L222.37 102.62 L223.93 104.61 L225.49 106.65 L227.06 108.71 L228.62 110.80 L230.18 112.94 L231.74 115.17 L233.31 117.53 L234.87 120.01 L236.43 122.60 L237.99 125.32 L239.56 128.26 L241.12 131.48"/>
<path d="M197.30 65.49 L198.86 67.13 L200.43 68.78 L201.99 70.42 L203.55 72.07 L205.11 73.72 L206.68 75.37 L208.24 77.03 L209.80 78.69 L211.36 80.36 L212.93 82.03 L214.49 83.71 L216.05 85.40 L217.61 87.09 L219.18 88.80 L220.74 90.52 L222.30 92.26 L223.86 94.02 L225.43 95.79 L226.99 97.59 L228.55 99.42 L230.11 101.28 L231.68 103.19 L233.24 105.17 L234.80 107.21 L236.36 109.28 L237.93 111.37 L239.49 113.51 L241.05 115.73 L242.61 118.09 L244.18 120.58 L245.74 123.16 L247.30 125.89 L248.86 128.82 L250.43 132.04"/>
<path d="M206.61 66.69 L208.17 68.34 L209.74 69.98 L211.30 71.63 L212.86 73.27 L214.42 74.93 L215.98 76.58 L217.55 78.24 L219.11 79.90 L220.67 81.57 L222.23 83.24 L223.80 84.92 L225.36 86.61 L226.92 88.31 L228.48 90.02 L230.05 91.74 L231.61 93.48 L233.17 95.24 L234.73 97.02 L236.30 98.82 L237.86 100.65 L239.42 102.51 L240.98 104.43 L242.55 106.42 L244.11 108.46 L245.67 110.53 L247.23 112.62 L248.80 114.76 L250.36 116.99 L251.92 119.35 L253.48 121.83 L255.05 124.42 L256.61 127.14 L258.17 130.07 L259.73 133.28"/>
<path d="M215.92 67.90 L217.48 69.54 L219.04 71.19 L220.61 72.83 L222.17 74.48 L223.73 76.14 L225.29 77.79 L226.86 79.45 L228.42 81.11 L229.98 82.78 L231.54 84.46 L233.10 86.14 L234.67 87.83 L236.23 89.54 L237.79 91.25 L239.35 92.98 L240.92 94.73 L242.48 96.49 L244.04 98.27 L245.60 100.08 L247.17 101.92 L248.73 103.79 L250.29 105.71 L251.85 107.71 L253.42 109.76 L254.98 111.83 L256.54 113.93 L258.10 116.07 L259.67 118.30 L261.23 120.66 L262.79 123.14 L264.35 125.72 L265.92 128.44 L267.48 131.35 L269.04 134.53"/>
<path d="M225.23 69.75 L226.79 71.39 L228.35 73.04 L229.91 74.69 L231.48 76.34 L233.04 77.99 L234.60 79.65 L236.16 81.31 L237.73 82.98 L239.29 84.65 L240.85 86.33 L242.41 88.02 L243.98 89.72 L245.54 91.42 L247.10 93.15 L248.66 94.88 L250.23 96.63 L251.79 98.41 L253.35 100.20 L254.91 102.02 L256.47 103.86 L258.04 105.74 L259.60 107.67 L261.16 109.68 L262.72 111.73 L264.29 113.81 L265.85 115.92 L267.41 118.06 L268.97 120.29 L270.54 122.65 L272.10 125.12 L273.66 127.68 L275.22 130.38 L276.79 133.26 L278.35 136.40"/>
<path d="M234.53 72.35 L236.10 74.00 L237.66 75.64 L239.22 77.29 L240.78 78.94 L242.35 80.60 L243.91 82.26 L245.47 83.92 L247.03 85.59 L248.60 87.26 L250.16 88.95 L251.72 90.64 L253.28 92.34 L254.85 94.05 L256.41 95.77 L257.97 97.51 L259.53 99.27 L261.10 101.04 L262.66 102.84 L264.22 104.66 L265.78 106.51 L267.35 108.39 L268.91 110.32 L270.47 112.33 L272.03 114.39 L273.60 116.47 L275.16 118.58 L276.72 120.72 L278.28 122.95 L279.84 125.30 L281.41 127.77 L282.97 130.32 L284.53 133.00 L286.09 135.86 L287.66 138.97"/>
<path d="M243.84 77.18 L245.40 78.82 L246.97 80.47 L248.53 82.11 L250.09 83.77 L251.65 85.42 L253.22 87.08 L254.78 88.74 L256.34 90.41 L257.90 92.08 L259.47 93.76 L261.03 95.45 L262.59 97.15 L264.15 98.86 L265.72 100.58 L267.28 102.32 L268.84 104.07 L270.40 105.85 L271.97 107.64 L273.53 109.46 L275.09 111.31 L276.65 113.18 L278.22 115.12 L279.78 117.12 L281.34 119.18 L282.90 121.26 L284.47 123.36 L286.03 125.50 L287.59 127.72 L289.15 130.07 L290.72 132.54 L292.28 135.09 L293.84 137.77 L295.40 140.63 L296.97 143.75"/>
<path d="M253.15 83.21 L254.71 84.85 L256.27 86.50 L257.84 88.15 L259.40 89.80 L260.96 91.45 L262.52 93.11 L264.09 94.77 L265.65 96.44 L267.21 98.12 L268.77 99.80 L270.34 101.49 L271.90 103.18 L273.46 104.89 L275.02 106.62 L276.59 108.35 L278.15 110.11 L279.71 111.88 L281.27 113.67 L282.84 115.49 L284.40 117.34 L285.96 119.22 L287.52 121.15 L289.09 123.15 L290.65 125.21 L292.21 127.29 L293.77 129.39 L295.34 131.53 L296.90 133.76 L298.46 136.11 L300.02 138.57 L301.59 141.12 L303.15 143.80 L304.71 146.66 L306.27 149.78"/>
<path stroke-width="1.1" d="M262.46 91.06 L264.02 92.70 L265.58 94.35 L267.14 95.99 L268.71 97.65 L270.27 99.30 L271.83 100.96 L273.39 102.62 L274.96 104.29 L276.52 105.96 L278.08 107.64 L279.64 109.33 L281.21 111.03 L282.77 112.74 L284.33 114.46 L285.89 116.20 L287.46 117.95 L289.02 119.73 L290.58 121.52 L292.14 123.34 L293.71 125.19 L295.27 127.06 L296.83 129.00 L298.39 131.00 L299.96 133.06 L301.52 135.14 L303.08 137.24 L304.64 139.38 L306.21 141.60 L307.77 143.95 L309.33 146.42 L310.89 148.97 L312.46 151.65 L314.02 154.51 L315.58 157.63"/>
</g>
<path d="M119.98 123.95 L121.10 123.27 L122.21 122.61 L123.32 121.96 L124.43 121.32 L125.55 120.69 L126.66 120.08 L127.77 119.47 L128.88 118.88 L129.99 118.30 L131.11 117.74 L132.22 117.18 L133.33 116.64 L134.44 116.11 L135.56 115.59 L136.67 115.09 L137.78 114.60 L138.89 114.12 L140.00 113.65 L141.12 113.20 L142.23 112.75 L143.34 112.33 L144.45 111.91 L145.57 111.51 L146.68 111.12 L147.79 110.74 L148.90 110.38 L150.01 110.02 L151.13 109.68 L152.24 109.36 L153.35 109.04 L154.46 108.73 L155.58 108.44 L156.69 108.16 L157.80 107.89 L158.91 107.63 L160.02 107.38 L161.14 107.14 L162.25 106.91 L163.36 106.69 L164.47 106.48 L165.59 106.28 L166.70 106.08 L167.81 105.90 L168.92 105.72 L170.03 105.55 L171.15 105.39 L172.26 105.24 L173.37 105.09 L174.48 104.95 L175.60 104.81 L176.71 104.68 L177.82 104.55 L178.93 104.43 L180.05 104.31 L181.16 104.20 L182.27 104.09 L183.38 103.98 L184.49 103.88 L185.61 103.78 L186.72 103.69 L187.83 103.60 L188.94 103.51 L190.06 103.42 L191.17 103.34 L192.28 103.26 L193.39 103.19 L194.50 103.12 L195.62 103.05 L196.73 102.98 L197.84 102.92 L198.95 102.86 L200.07 102.81 L201.18 102.76 L202.29 102.71 L203.40 102.67 L204.51 102.62 L205.63 102.59 L206.74 102.55 L207.85 102.52 L208.96 102.50 L210.08 102.47 L211.19 102.46 L212.30 102.45 L213.41 102.45 L214.52 102.45 L215.64 102.46 L216.75 102.47 L217.86 102.49 L218.97 102.52 L220.09 102.55 L221.20 102.58 L222.31 102.62 L223.42 102.66 L224.53 102.71 L225.65 102.76 L226.76 102.82 L227.87 102.89 L228.98 102.97 L230.10 103.05 L231.21 103.15 L232.32 103.25 L233.43 103.36 L234.55 103.47 L235.66 103.61 L236.77 103.76 L237.88 103.93 L238.99 104.10 L240.11 104.28 L241.22 104.47 L242.33 104.65 L243.44 104.82 L244.56 104.98 L245.67 105.13 L246.78 105.27 L247.89 105.40 L249.00 105.54 L250.12 105.69 L251.23 105.85 L252.34 106.03 L253.45 106.24 L254.57 106.47 L255.68 106.71 L256.79 106.97 L257.90 107.24 L259.01 107.52 L260.13 107.81 L261.24 108.10 L262.35 108.39 L263.46 108.69 L264.58 108.99 L265.69 109.30 L266.80 109.63 L267.91 109.98 L269.02 110.36 L270.14 110.78 L271.25 111.24 L272.36 111.79 L273.47 112.39 L274.59 113.01 L275.70 113.63 L276.81 114.27 L277.92 114.94 L279.03 115.62 L280.15 116.30 L281.26 116.97 L282.37 117.64 L283.48 118.33 L284.60 119.05 L285.71 119.82 L286.82 120.63 L287.93 121.46 L289.05 122.31 L290.16 123.19 L291.27 124.09 L292.38 125.01 L293.49 125.94 L294.61 126.90 L295.72 127.92 L296.83 129.00" fill="none" stroke="#0000ff" stroke-width="1.6" stroke-linejoin="round"/>
<path d="M85.61 67.10 L86.72 67.07 L87.83 67.04 L88.95 67.01 L90.06 66.99 L91.17 66.96 L92.28 66.93 L93.40 66.91 L94.51 66.88 L95.62 66.85 L96.73 66.83 L97.84 66.80 L98.96 66.77 L100.07 66.74 L101.18 66.71 L102.29 66.69 L103.41 66.66 L104.52 66.63 L105.63 66.60 L106.74 66.58 L107.85 66.55 L108.97 66.52 L110.08 66.49 L111.19 66.46 L112.30 66.43 L113.42 66.40 L114.53 66.38 L115.64 66.35 L116.75 66.32 L117.86 66.29 L118.98 66.26 L120.09 66.23 L121.20 66.20 L122.31 66.17 L123.43 66.14 L124.54 66.11 L125.65 66.09 L126.76 66.06 L127.87 66.03 L128.99 66.00 L130.10 65.97 L131.21 65.94 L132.32 65.91 L133.44 65.88 L134.55 65.85 L135.66 65.82 L136.77 65.79 L137.89 65.76 L139.00 65.73 L140.11 65.70 L141.22 65.67 L142.33 65.63 L143.45 65.60 L144.56 65.56 L145.67 65.53 L146.78 65.49 L147.90 65.45 L149.01 65.42 L150.12 65.38 L151.23 65.34 L152.34 65.30 L153.46 65.26 L154.57 65.22 L155.68 65.18 L156.79 65.15 L157.91 65.11 L159.02 65.07 L160.13 65.04 L161.24 65.00 L162.35 64.97 L163.47 64.93 L164.58 64.90 L165.69 64.87 L166.80 64.84 L167.92 64.82 L169.03 64.79 L170.14 64.77 L171.25 64.75 L172.36 64.73 L173.48 64.72 L174.59 64.70 L175.70 64.69 L176.81 64.69 L177.93 64.69 L179.04 64.70 L180.15 64.71 L181.26 64.73 L182.37 64.75 L183.49 64.77 L184.60 64.80 L185.71 64.84 L186.82 64.88 L187.94 64.92 L189.05 64.96 L190.16 65.01 L191.27 65.06 L192.39 65.12 L193.50 65.19 L194.61 65.27 L195.72 65.36 L196.83 65.45 L197.95 65.55 L199.06 65.65 L200.17 65.77 L201.28 65.90 L202.40 66.04 L203.51 66.21 L204.62 66.38 L205.73 66.55 L206.84 66.73 L207.96 66.90 L209.07 67.07 L210.18 67.22 L211.29 67.36 L212.41 67.49 L213.52 67.62 L214.63 67.74 L215.74 67.88 L216.85 68.03 L217.97 68.19 L219.08 68.39 L220.19 68.60 L221.30 68.83 L222.42 69.08 L223.53 69.33 L224.64 69.60 L225.75 69.88 L226.86 70.17 L227.98 70.45 L229.09 70.74 L230.20 71.03 L231.31 71.34 L232.43 71.67 L233.54 72.02 L234.65 72.39 L235.76 72.81 L236.87 73.28 L237.99 73.83 L239.10 74.43 L240.21 75.06 L241.32 75.68 L242.44 76.33 L243.55 77.00 L244.66 77.68 L245.77 78.36 L246.89 79.03 L248.00 79.70 L249.11 80.39 L250.22 81.12 L251.33 81.89 L252.45 82.69 L253.56 83.52 L254.67 84.37 L255.78 85.25 L256.90 86.15 L258.01 87.07 L259.12 88.00 L260.23 88.96 L261.34 89.98 L262.46 91.06" fill="none" stroke="#ff0000" stroke-width="1.3" stroke-linejoin="round"/>
<text transform="translate(155.00,25.60) scale(1,1.000)" text-anchor="start">time:</text>
<text transform="translate(186.50,25.60) scale(1,1.000)" text-anchor="start">100</text>
<text transform="translate(210.20,25.60) scale(1,1.000)" text-anchor="start">kyr</text>
<text transform="translate(50.30,66.75) scale(1,1.000)" text-anchor="end">0</text>
<text transform="translate(50.30,81.13) scale(1,1.000)" text-anchor="end">2</text>
<path d="M35.90 77.83 L43.40 77.83" stroke="#000" stroke-width="0.5"/>
<text transform="translate(50.30,95.51) scale(1,1.000)" text-anchor="end">4</text>
<path d="M35.90 92.21 L43.40 92.21" stroke="#000" stroke-width="0.5"/>
<text transform="translate(50.30,109.89) scale(1,1.000)" text-anchor="end">6</text>
<path d="M35.90 106.59 L43.40 106.59" stroke="#000" stroke-width="0.5"/>
<text transform="translate(50.30,124.27) scale(1,1.000)" text-anchor="end">8</text>
<path d="M35.90 120.97 L43.40 120.97" stroke="#000" stroke-width="0.5"/>
<text transform="translate(50.30,138.65) scale(1,1.000)" text-anchor="end">10</text>
<path d="M29.90 135.35 L37.40 135.35" stroke="#000" stroke-width="0.5"/>
<text transform="translate(47.30,175.80) scale(1,1.000)" text-anchor="end">0</text>
<text transform="translate(58.70,187.78) scale(1,1.000)" text-anchor="end">50</text>
<text transform="translate(70.10,199.76) scale(1,1.000)" text-anchor="end">100</text>
<text transform="translate(81.50,211.74) scale(1,1.000)" text-anchor="end">150</text>
<text transform="translate(92.90,223.72) scale(1,1.000)" text-anchor="end">200</text>
<text transform="translate(104.30,235.70) scale(1,1.000)" text-anchor="end">250</text>
<text transform="translate(115.60,244.90) scale(1,1.000)" text-anchor="middle">0.01</text>
<text transform="translate(150.55,242.23) scale(1,1.000)" text-anchor="middle">0.1</text>
<text transform="translate(185.50,239.56) scale(1,1.000)" text-anchor="middle">1</text>
<text transform="translate(220.45,236.89) scale(1,1.000)" text-anchor="middle">10</text>
<text transform="translate(255.40,234.22) scale(1,1.000)" text-anchor="middle">100</text>
<text transform="translate(290.35,231.55) scale(1,1.000)" text-anchor="middle">1000</text>
<text transform="translate(325.30,228.88) scale(1,1.000)" text-anchor="middle">10000</text>
<text x="25.0" y="213.8" font-style="italic" textLength="6.2" lengthAdjust="spacingAndGlyphs">x</text><text x="36.2" y="213.8">(pc)</text>
<text x="203.4" y="249.2" font-style="italic">p</text><text x="214.1" y="249.2" textLength="32.4" lengthAdjust="spacingAndGlyphs">(GeV/</text><text x="247.9" y="249.2" font-style="italic">c</text><text x="253.7" y="249.2">)</text>
<g transform="translate(16.6,127.6) rotate(-90)"><text x="0" y="0">log</text><text x="18.7" y="0">(</text><text x="23.6" y="0" font-style="italic">p</text><text x="30.2" y="-4.2" font-size="8.4">4.5</text><text x="44.8" y="0" font-style="italic">f</text><text x="52.2" y="0">)</text></g>
</svg>
</body></html>
